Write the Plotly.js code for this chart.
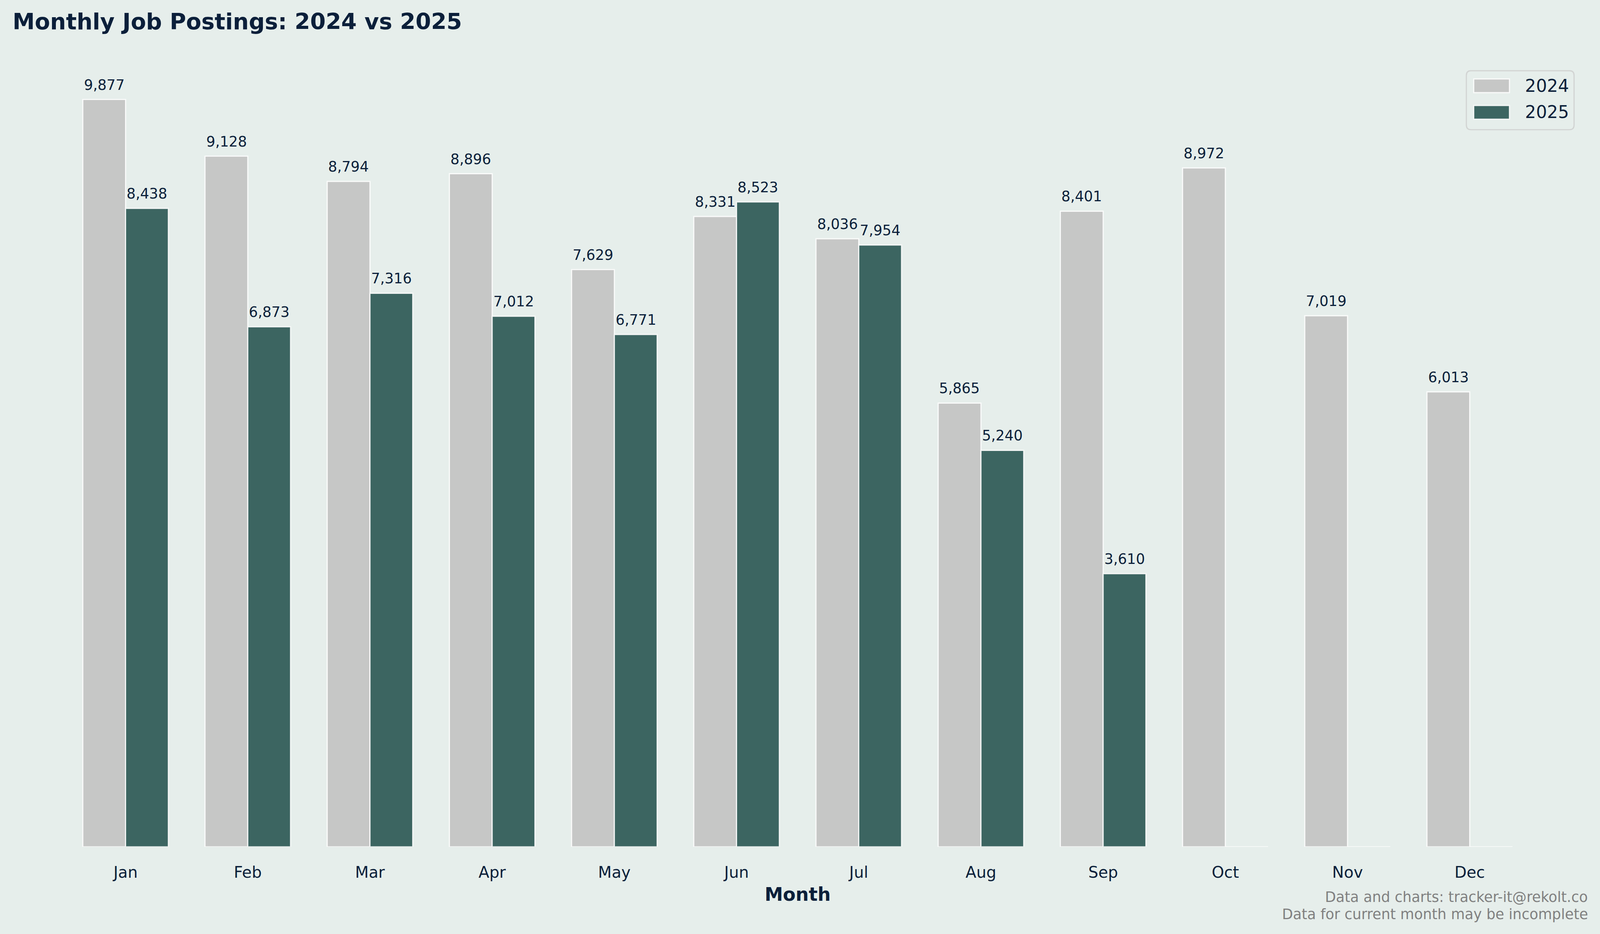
<!DOCTYPE html>
<html>
<head>
<meta charset="utf-8">
<script src="https://cdn.plot.ly/plotly-3.0.1.min.js"></script>
<style>
  html, body { margin: 0; padding: 0; background: #E6EEEB; overflow: hidden; }
</style>
</head>
<body>
<div id="chart"></div>
<script>
const months = ["Jan","Feb","Mar","Apr","May","Jun","Jul","Aug","Sep","Oct","Nov","Dec"];
const seriesNames = ["2024", "2025"];
const postings2024 = [9877, 9128, 8794, 8896, 7629, 8331, 8036, 5865, 8401, 8972, 7019, 6013];
const postings2025 = [8438, 6873, 7316, 7012, 6771, 8523, 7954, 5240, 3610, 0, 0, 0];
const chartTitle = "Monthly Job Postings: 2024 vs 2025";
const xTitle = "Month";
const footerLines = ["Data and charts: tracker-it@rekolt.co", "Data for current month may be incomplete"];

const BG = "#E6EEEB";
const C2024 = "#C6C7C6";
const C2025 = "#3C6561";
const INK = "#0B1F3A";
const FOOT = "#808080";
const FONT = "DejaVu Sans, sans-serif";

// design is 4164x2390; fill the real viewport
const BASE_W = 4164, BASE_H = 2390;
const vw = window.innerWidth || BASE_W, vh = window.innerHeight || BASE_H;
const sx = vw / BASE_W, sy = vh / BASE_H;
const fs = v => v * Math.min(sx, sy);

const BAR_W = 0.35;           // each bar = 0.35 category units (bargap 0.3, two bars)
const barLine = { color: "rgba(255,255,255,0.85)", width: fs(3) };

const traces = [
  { type: "bar", name: seriesNames[0], x: months, y: postings2024,
    marker: { color: C2024, line: barLine }, hoverinfo: "x+y" },
  { type: "bar", name: seriesNames[1], x: months, y: postings2025,
    marker: { color: C2025, line: barLine }, hoverinfo: "x+y" }
];

const ymax = Math.max(...postings2024, ...postings2025) * 1.05;

// value labels above bars
const valueLabels = [];
[postings2024, postings2025].forEach((vals, k) => {
  const off = (k === 0 ? -1 : 1) * BAR_W / 2;
  vals.forEach((v, i) => {
    if (v > 0) valueLabels.push({
      xref: "x", yref: "y", x: i + off, y: v, xanchor: "center", yanchor: "bottom",
      yshift: 14 * sy, text: v.toLocaleString("en-US"), showarrow: false,
      font: { family: FONT, size: fs(37), color: INK }
    });
  });
});

// legend drawn in paper coordinates
const legendShapes = [
  { type: "path", xref: "paper", yref: "paper",
    path: "M 0.9281,0.9890 L 0.9908,0.9890 Q 0.9937,0.9890 0.9937,0.9830 L 0.9937,0.9199 Q 0.9937,0.9139 0.9908,0.9139 L 0.9281,0.9139 Q 0.9252,0.9139 0.9252,0.9199 L 0.9252,0.9830 Q 0.9252,0.9890 0.9281,0.9890 Z",
    fillcolor: BG, line: { color: "#D2D4D3", width: fs(3) } },
  { type: "rect", xref: "paper", yref: "paper", x0: 0.9299, x1: 0.9526, y0: 0.9612, y1: 0.9786,
    fillcolor: C2024, line: { color: "rgba(255,255,255,0.85)", width: fs(3) } },
  { type: "rect", xref: "paper", yref: "paper", x0: 0.9299, x1: 0.9526, y0: 0.9273, y1: 0.9447,
    fillcolor: C2025, line: { color: "rgba(255,255,255,0.85)", width: fs(3) } }
];

const annotations = valueLabels.concat([
  { xref: "paper", yref: "paper", x: 0.9619, y: 0.9701, xanchor: "left", yanchor: "middle",
    text: seriesNames[0], showarrow: false, font: { family: FONT, size: fs(45), color: INK } },
  { xref: "paper", yref: "paper", x: 0.9619, y: 0.9367, xanchor: "left", yanchor: "middle",
    text: seriesNames[1], showarrow: false, font: { family: FONT, size: fs(45), color: INK } },
  { xref: "paper", yref: "paper", x: 1.0029, y: -0.0642, xanchor: "right", yanchor: "middle",
    text: footerLines[0], showarrow: false, font: { family: FONT, size: fs(37), color: FOOT } },
  { xref: "paper", yref: "paper", x: 1.0029, y: -0.0857, xanchor: "right", yanchor: "middle",
    text: footerLines[1], showarrow: false, font: { family: FONT, size: fs(37), color: FOOT } }
]);

const layout = {
  width: vw, height: vh,
  paper_bgcolor: BG, plot_bgcolor: BG,
  margin: { l: 29 * sx, r: 42 * sx, t: 159 * sy, b: 223 * sy, pad: 0 },
  font: { family: FONT, color: INK },
  title: { text: "<b>" + chartTitle + "</b>", x: 0.0079, xref: "container", xanchor: "left",
           y: 0.9686, yref: "container", yanchor: "bottom",
           font: { family: FONT, size: fs(58), color: INK } },
  barmode: "group", bargap: 0.3, bargroupgap: 0,
  showlegend: false,
  xaxis: {
    type: "category", range: [-0.935, 11.935],
    showgrid: false, zeroline: false, showline: false,
    ticks: "outside", ticklen: 30 * sy, tickcolor: "rgba(0,0,0,0)",
    tickfont: { family: FONT, size: fs(41), color: INK },
    title: { text: "<b>" + xTitle + "</b>", standoff: 16 * sy, font: { family: FONT, size: fs(48), color: INK } },
    automargin: false
  },
  yaxis: {
    range: [0, ymax], showgrid: false, zeroline: false, showline: false,
    showticklabels: false, ticks: "", automargin: false
  },
  shapes: legendShapes,
  annotations: annotations
};

Plotly.newPlot("chart", traces, layout, { displayModeBar: false, staticPlot: true });
</script>
</body>
</html>
